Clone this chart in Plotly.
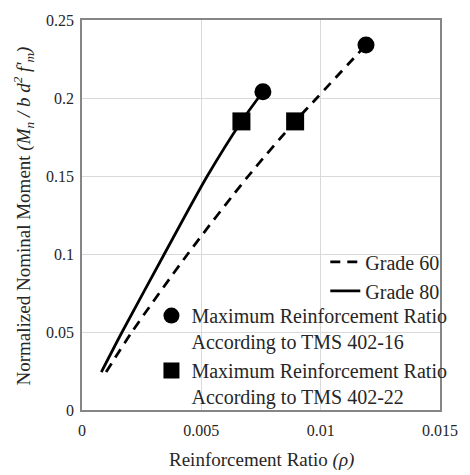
import plotly.graph_objects as go

# Reinforcement ratio vs normalized nominal moment curves
rho_g60 = [0.00101, 0.00209, 0.00443, 0.00697, 0.00893, 0.00984, 0.0119]
mn_g60 = [0.0243, 0.05, 0.1, 0.15, 0.185, 0.2, 0.234]

rho_g80 = [0.00081, 0.00168, 0.00345, 0.00525, 0.00668, 0.00758]
mn_g80 = [0.0243, 0.05, 0.1, 0.15, 0.185, 0.204]

# Maximum reinforcement ratio limits (Grade 80, Grade 60)
rho_max_16 = [0.00758, 0.0119]
mn_max_16 = [0.204, 0.234]
rho_max_22 = [0.00668, 0.00893]
mn_max_22 = [0.185, 0.185]

x_ticks = [0, 0.005, 0.01, 0.015]
x_tick_text = ["0", "0.005", "0.01", "0.015"]
y_ticks = [0, 0.05, 0.1, 0.15, 0.2, 0.25]
y_tick_text = ["0", "0.05", "0.1", "0.15", "0.2", "0.25"]

x_title = "Reinforcement Ratio <i>(ρ)</i>"
y_title = "Normalized Nominal Moment <i>(M<sub>n</sub> / b d<sup>2</sup> f'<sub>m</sub>)</i>"

FONT = "Liberation Serif, Times New Roman, serif"
INK = "#262626"

fig = go.Figure()
fig.add_trace(go.Scatter(
    x=rho_g60, y=mn_g60, mode="lines", name="Grade 60",
    line=dict(color="black", width=2.75, dash="10px,7px", shape="spline", smoothing=0.8),
    legend="legend",
))
fig.add_trace(go.Scatter(
    x=rho_g80, y=mn_g80, mode="lines", name="Grade 80",
    line=dict(color="black", width=2.75, shape="spline", smoothing=0.8),
    legend="legend",
))
fig.add_trace(go.Scatter(
    x=rho_max_16, y=mn_max_16, mode="markers",
    name="Maximum Reinforcement Ratio<br>According to TMS 402-16",
    marker=dict(symbol="circle", size=17, color="black"),
    legend="legend2",
))
fig.add_trace(go.Scatter(
    x=rho_max_22, y=mn_max_22, mode="markers",
    name="Maximum Reinforcement Ratio<br>According to TMS 402-22",
    marker=dict(symbol="square", size=18, color="black"),
    legend="legend2",
))

axis_common = dict(
    showgrid=True, gridcolor="#d9d9d9", gridwidth=1,
    zeroline=False, showline=True, linecolor="#868686", linewidth=1.5,
    mirror=True, ticks="outside", tickcolor="rgba(0,0,0,0)",
    tickfont=dict(family=FONT, size=16, color=INK),
)

fig.update_layout(
    width=470, height=475,
    margin=dict(l=82, r=22, t=16, b=65),
    paper_bgcolor="white", plot_bgcolor="white",
    font=dict(family=FONT, color=INK, size=16),
    xaxis=dict(
        range=[0, 0.015], tickvals=x_ticks, ticktext=x_tick_text, ticklen=5,
        **axis_common,
    ),
    yaxis=dict(
        range=[0, 0.25], tickvals=y_ticks, ticktext=y_tick_text, ticklen=3,
        **axis_common,
    ),
    legend=dict(
        x=1.012, xanchor="right", y=0.430, yanchor="top",
        bgcolor="rgba(0,0,0,0)", borderwidth=0,
        font=dict(family=FONT, size=20, color=INK),
        itemwidth=30,
    ),
    legend2=dict(
        x=0.194, xanchor="left", y=0.292, yanchor="top",
        bgcolor="rgba(0,0,0,0)", borderwidth=0, valign="top",
        font=dict(family=FONT, size=20, color=INK),
        itemwidth=30,
    ),
    annotations=[
        dict(text=x_title, xref="paper", yref="paper", x=0.5, y=-0.127,
             xanchor="center", yanchor="middle", showarrow=False,
             font=dict(family=FONT, size=19, color=INK)),
        dict(text=y_title, xref="paper", yref="paper", x=-0.164, y=0.497,
             xanchor="center", yanchor="middle", showarrow=False, textangle=-90,
             font=dict(family=FONT, size=19, color=INK)),
    ],
)

fig.write_html("out.html")
